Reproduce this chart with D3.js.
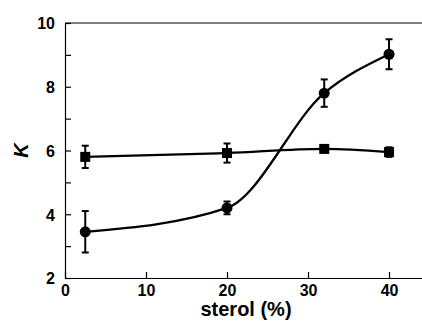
<!DOCTYPE html>
<html><head><meta charset="utf-8">
<script src="https://cdn.jsdelivr.net/npm/d3@7"></script>
<style>body{margin:0;background:#fff}svg{display:block}text{font-family:"Liberation Sans",Arial,sans-serif;font-weight:bold}</style>
</head><body>
<script>
const sterol = [2.5, 20, 32, 40];
const kCircle = [3.45, 4.2, 7.8, 9.02];
const errCircle = [0.65, 0.2, 0.43, 0.47];
const kSquare = [5.8, 5.92, 6.05, 5.95];
const errSquare = [0.35, 0.3, 0.05, 0.15];
const xTicks = [0, 10, 20, 30, 40];
const yTicks = [2, 4, 6, 8, 10];
const yMinor = [3, 5, 7, 9];

const W = 422, H = 323;
const m = {l: 65, r: 0, t: 23, b: 45};
const svg = d3.select("body").append("svg").attr("width", W).attr("height", H);
const x = d3.scaleLinear().domain([0, 44.07]).range([m.l, W - m.r]);
const y = d3.scaleLinear().domain([2, 10]).range([H - m.b, m.t]);

// frame
const g = svg.append("g");
g.append("line").attr("x1", x(0)).attr("x2", W).attr("y1", y(10)).attr("y2", y(10)).attr("stroke", "#000").attr("stroke-width", 1.2);

const xAxis = svg.append("g").attr("transform", `translate(0,${y(2)})`)
  .call(d3.axisBottom(x).tickValues(xTicks).tickSizeInner(-6).tickSizeOuter(0).tickPadding(6));
const yAxis = svg.append("g").attr("transform", `translate(${x(0)},0)`)
  .call(d3.axisLeft(y).tickValues(yTicks).tickSizeInner(-6).tickSizeOuter(0).tickPadding(10));
svg.append("g").attr("transform", `translate(${x(0)},0)`)
  .call(d3.axisLeft(y).tickValues(yMinor).tickSize(-6).tickFormat("")).select(".domain").remove();
[xAxis, yAxis].forEach(a => {
  a.selectAll("text").style("font-size", "16px").attr("fill", "#000");
  a.selectAll("line,path").attr("stroke", "#000").attr("stroke-width", 1.2);
});
yAxis.selectAll("text").attr("dy", "0.36em");
xAxis.selectAll("text").attr("dy", "0.75em");
svg.selectAll(".tick line").attr("stroke", "#000").attr("stroke-width", 1.2);

// axis labels
svg.append("text").attr("x", 246).attr("y", 316).attr("text-anchor", "middle").style("font-size", "20px").text("sterol (%)");
svg.append("text").attr("transform", `translate(28,${y(6)}) rotate(-90)`).attr("text-anchor", "middle")
  .style("font-size", "20px").style("font-style", "italic").text("K");

const line = d3.line().x(d => x(d[0])).y(d => y(d[1])).curve(d3.curveMonotoneX);
const circ = sterol.map((s, i) => [s, kCircle[i], errCircle[i]]);
const sq = sterol.map((s, i) => [s, kSquare[i], errSquare[i]]);

function errbars(data) {
  const eg = svg.append("g").attr("stroke", "#000").attr("stroke-width", 2);
  data.forEach(d => {
    eg.append("line").attr("x1", x(d[0])).attr("x2", x(d[0])).attr("y1", y(d[1] - d[2])).attr("y2", y(d[1] + d[2]));
    [d[1] - d[2], d[1] + d[2]].forEach(v => eg.append("line").attr("x1", x(d[0]) - 3.5).attr("x2", x(d[0]) + 3.5).attr("y1", y(v)).attr("y2", y(v)));
  });
}

svg.append("path").attr("d", line(sq)).attr("fill", "none").attr("stroke", "#000").attr("stroke-width", 2.3);
svg.append("path").attr("d", line(circ)).attr("fill", "none").attr("stroke", "#000").attr("stroke-width", 2.3);
errbars(sq);
errbars(circ);
svg.selectAll(".sq").data(sq).join("rect").attr("x", d => x(d[0]) - 5).attr("y", d => y(d[1]) - 5).attr("width", 10).attr("height", 10).attr("fill", "#000");
svg.selectAll(".ci").data(circ).join("circle").attr("cx", d => x(d[0])).attr("cy", d => y(d[1])).attr("r", 5.5).attr("fill", "#000");
</script>
</body></html>
